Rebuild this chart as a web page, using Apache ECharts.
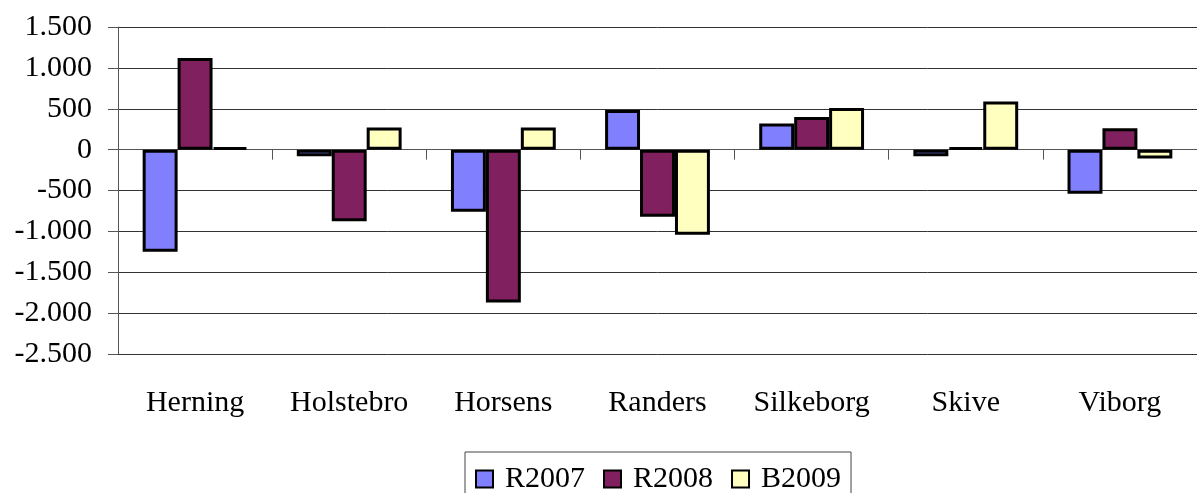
<!DOCTYPE html>
<html>
<head>
<meta charset="utf-8">
<script src="https://cdn.jsdelivr.net/npm/echarts@6/dist/echarts.min.js"></script>
<style>
  html, body { margin: 0; padding: 0; background: #fff; }
  #chart { width: 1197px; height: 493px; }
</style>
</head>
<body>
<div id="chart"></div>
<script>
var categories = ['Herning', 'Holstebro', 'Horsens', 'Randers', 'Silkeborg', 'Skive', 'Viborg'];
var r2007 = [-1250, -80, -760, 485, 320, -80, -540];
var r2008 = [1120, -875, -1870, -820, 400, 25, 260];
var b2009 = [25, 270, 270, -1040, 510, 590, -110];
var yTicks = {min: -2500, max: 1500, interval: 500};

var myChart = echarts.init(document.getElementById('chart'));

var font = '"Liberation Serif", "Times New Roman", serif';

// 1000 -> "1.000", danish style
function fmt(v) {
    var s = Math.abs(v).toString();
    s = s.replace(/\B(?=(\d{3})+(?!\d))/g, '.');
    return (v < 0 ? '-' : '') + s;
}

function bar(name, data, color) {
    return {
        name: name,
        type: 'bar',
        xAxisIndex: 0,
        data: data,
        barGap: '0%',
        barCategoryGap: '32%',
        itemStyle: {color: color, borderColor: '#000', borderWidth: 3}
    };
}

var option = {
    animation: false,
    backgroundColor: '#fff',
    textStyle: {fontFamily: font},
    grid: {left: 118, top: 27, height: 327, width: 1086},
    legend: {
        left: 465,
        top: 452,
        padding: [12, 10, 12, 10],
        borderColor: '#444',
        borderWidth: 1,
        itemWidth: 17,
        itemHeight: 17,
        itemGap: 18,
        icon: 'rect',
        itemStyle: {borderColor: '#000', borderWidth: 2},
        textStyle: {fontFamily: font, fontSize: 30, color: '#000', padding: [0, 0, 0, 7]},
        data: ['R2007', 'R2008', 'B2009']
    },
    xAxis: [
        {
            // labels at the bottom
            type: 'category',
            data: categories,
            position: 'bottom',
            axisLine: {show: false, onZero: false},
            axisTick: {show: false},
            axisLabel: {fontFamily: font, fontSize: 30, color: '#000', margin: 34},
            splitLine: {show: false}
        },
        {
            // axis line + ticks on zero
            type: 'category',
            data: categories,
            position: 'top',
            axisLine: {show: true, onZero: true, lineStyle: {color: '#555', width: 1}},
            axisTick: {show: true, inside: true, length: 10, lineStyle: {color: '#555'}},
            axisLabel: {show: false},
            splitLine: {show: false}
        }
    ],
    yAxis: {
        type: 'value',
        min: yTicks.min,
        max: yTicks.max,
        interval: yTicks.interval,
        axisLine: {show: true, lineStyle: {color: '#555', width: 1}},
        axisTick: {show: true, length: 10, lineStyle: {color: '#555'}},
        axisLabel: {fontFamily: font, fontSize: 30, color: '#000', margin: 26, formatter: fmt},
        splitLine: {show: true, lineStyle: {color: '#333', width: 1}}
    },
    series: [
        bar('R2007', r2007, '#8080FF'),
        bar('R2008', r2008, '#80205F'),
        bar('B2009', b2009, '#FFFFC0')
    ]
};
myChart.setOption(option);
</script>
</body>
</html>
